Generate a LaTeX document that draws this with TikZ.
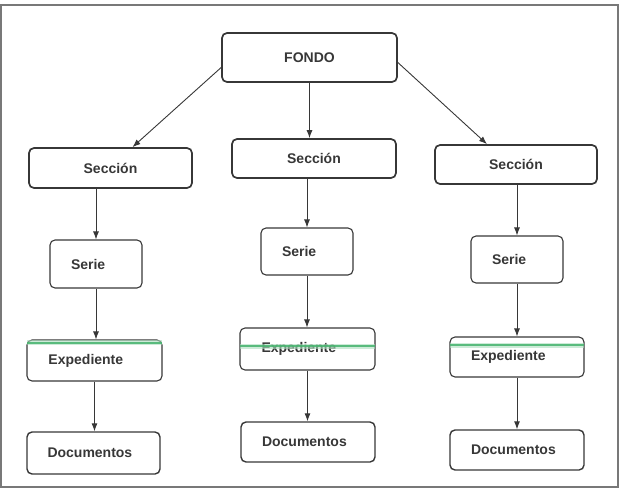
\documentclass[tikz,border=0pt]{standalone}
\usepackage{fontspec}
\setmainfont{Liberation Sans}
\usepackage{xcolor}
\usepackage{tikz}
\usetikzlibrary{arrows.meta,calc}
\definecolor{trazo}{RGB}{55,55,55}
\definecolor{marco}{RGB}{120,120,120}
\definecolor{franjaverde}{RGB}{70,180,110}

\begin{document}
\begin{tikzpicture}[x=1pt, y=-1pt,
  every node/.style={font=\fontsize{14}{16}\selectfont\bfseries, text=trazo},
  caja/.style={draw=trazo, line width=1.1pt, rounded corners=5pt, inner sep=0pt},
  cajagruesa/.style={caja, line width=1.7pt},
  cajaizq/.style={caja, align=left},
  flecha/.style={-{Latex[length=8pt,width=6pt]}, draw=trazo, line width=0.9pt},
  franja/.style={line width=2pt, draw=franjaverde, opacity=0.85,
    preaction={draw=franjaverde!45, line width=5pt, opacity=0.6}}]
  \useasboundingbox (0,0) rectangle (619,488);
  \draw[marco, line width=1.5pt] (1,5) rectangle (618,487);

  \node[cajagruesa, minimum width=175pt, minimum height=49pt] (fondo) at (309.5, 57.5) {FONDO};

  \node[cajagruesa, minimum width=163pt, minimum height=40pt] (sec1) at (110.5, 168) {Sección};
  \node[cajagruesa, minimum width=164pt, minimum height=39pt] (sec2) at (314, 158.5) {Sección};
  \node[cajagruesa, minimum width=162pt, minimum height=39pt] (sec3) at (516, 164.5) {Sección};

  \node[cajaizq, text width=50pt, minimum width=92pt, minimum height=48pt] (ser1) at (96, 264) {Serie};
  \node[cajaizq, text width=50pt, minimum width=92pt, minimum height=47pt] (ser2) at (307, 251.5) {Serie};
  \node[cajaizq, text width=50pt, minimum width=92pt, minimum height=47pt] (ser3) at (517, 259.5) {Serie};

  \node[cajaizq, text width=92pt, minimum width=135pt, minimum height=41pt] (exp1) at (94.5, 360.5) {Expediente};
  \node[cajaizq, text width=92pt, minimum width=135pt, minimum height=42pt] (exp2) at (307.5, 349) {Expediente};
  \node[cajaizq, text width=92pt, minimum width=134pt, minimum height=40pt] (exp3) at (517, 357) {Expediente};

  \node[cajaizq, line width=1.4pt, text width=92pt, minimum width=133pt, minimum height=42pt] (doc1) at (93.5, 453) {Documentos};
  \node[cajaizq, line width=1.4pt, text width=92pt, minimum width=134pt, minimum height=40pt] (doc2) at (308, 442) {Documentos};
  \node[cajaizq, line width=1.4pt, text width=92pt, minimum width=134pt, minimum height=40pt] (doc3) at (517, 450) {Documentos};

  \draw[franja] ($(exp1.north west)+(1,3.5)$) -- ($(exp1.north east)+(-1,3.5)$);
  \draw[franja] ($(exp2.north west)+(1,19)$) -- ($(exp2.north east)+(-1,19)$);
  \draw[franja] ($(exp3.north west)+(1,9)$) -- ($(exp3.north east)+(-1,9)$);

  \draw[flecha] ($(fondo.west)+(0,10)$) -- ($(sec1.north)+(22,0)$);
  \draw[flecha] (fondo.south) -- (fondo.south |- sec2.north);
  \draw[flecha] ($(fondo.east)+(0,5)$) -- ($(sec3.north)+(-29,0)$);

  \draw[flecha] (ser1.north |- sec1.south) -- (ser1.north);
  \draw[flecha] (ser1.south) -- (ser1.south |- exp1.north);
  \draw[flecha] (exp1.south) -- (exp1.south |- doc1.north);

  \draw[flecha] (ser2.north |- sec2.south) -- (ser2.north);
  \draw[flecha] (ser2.south) -- (ser2.south |- exp2.north);
  \draw[flecha] (exp2.south) -- (exp2.south |- doc2.north);

  \draw[flecha] (ser3.north |- sec3.south) -- (ser3.north);
  \draw[flecha] (ser3.south) -- (ser3.south |- exp3.north);
  \draw[flecha] (exp3.south) -- (exp3.south |- doc3.north);
\end{tikzpicture}
\end{document}
